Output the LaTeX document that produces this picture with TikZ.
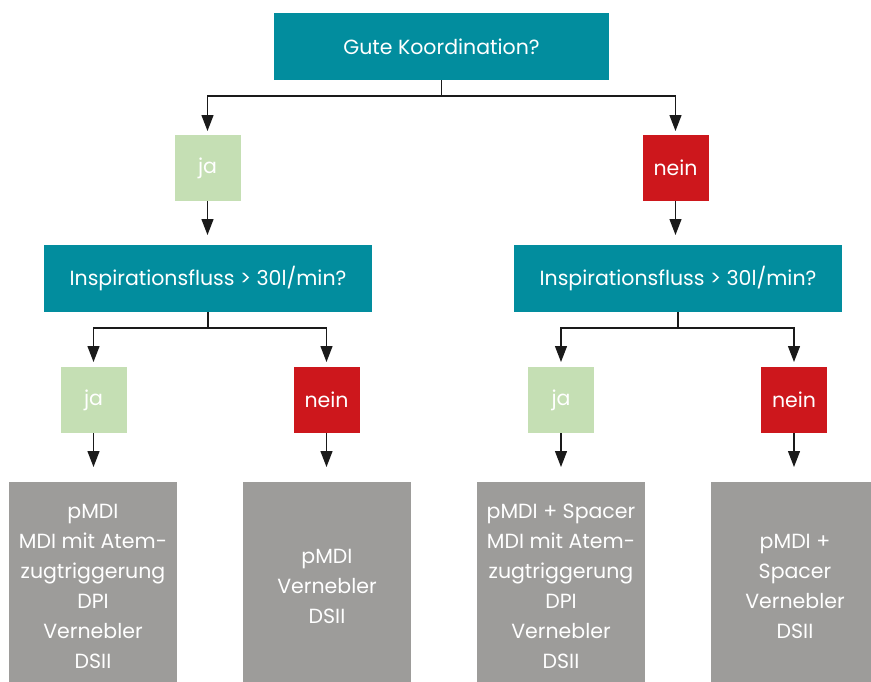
\documentclass[tikz,border=0pt]{standalone}
\usepackage{fontspec}
\setmainfont{Poppins}
\usetikzlibrary{arrows.meta}
\definecolor{tealc}{HTML}{028D9E}
\definecolor{greenc}{HTML}{C5DFB4}
\definecolor{redc}{HTML}{CD171C}
\definecolor{grayc}{HTML}{9D9C9A}
\definecolor{linec}{HTML}{1A1A1A}
\begin{document}
\begin{tikzpicture}[x=1pt,y=-1pt,
  base/.style={inner sep=0pt, outer sep=0pt, text=white, align=center, font=\fontsize{20.5}{30}\selectfont},
  qbox/.style={base, fill=tealc, minimum height=67pt},
  jabox/.style={base, fill=greenc, minimum width=66pt, minimum height=66pt},
  neinbox/.style={base, fill=redc, minimum width=66pt, minimum height=66pt},
  resbox/.style={base, fill=grayc, minimum width=168pt, minimum height=208pt},
  conn/.style={draw=linec, line width=1.3pt},
  arr/.style={conn, -{Triangle[length=16pt,width=12pt]}}
]
\path[use as bounding box] (0,0) rectangle (871,681);
\clip (0,0) rectangle (871,681);

\node[qbox, minimum width=335pt] (top) at (441.5,46.5) {Gute Koordination?};
\node[jabox] (jaT) at (207.5,168) {ja};
\node[neinbox] (neinT) at (675.5,168) {nein};
\node[qbox, minimum width=328pt] (insL) at (208,278.5) {Inspirationsfluss > 30l/min?};
\node[qbox, minimum width=328pt] (insR) at (678,278.5) {Inspirationsfluss > 30l/min?};
\node[jabox] (jaL) at (93.5,400) {ja};
\node[neinbox] (neinL) at (326.5,400) {nein};
\node[jabox] (jaR) at (561,400) {ja};
\node[neinbox] (neinR) at (794,400) {nein};
\node[resbox] (g1) at (93,586) {pMDI\\MDI mit Atem-\\zugtriggerung\\DPI\\Vernebler\\DSII};
\node[resbox] (g2) at (327,586) {pMDI\\Vernebler\\DSII};
\node[resbox] (g3) at (561,586) {pMDI + Spacer\\MDI mit Atem-\\zugtriggerung\\DPI\\Vernebler\\DSII};
\node[resbox] (g4) at (795,586) {pMDI +\\Spacer\\Vernebler\\DSII};

\coordinate (b0) at (441.5,96);
\coordinate (bL) at (208,328);
\coordinate (bR) at (678,328);

\draw[conn] (top.south) -- (b0);
\draw[arr, shorten >=4pt] (b0) -| (jaT.north);
\draw[arr, shorten >=4pt] (b0) -| (neinT.north);
\draw[arr, shorten >=10pt] (jaT.south) -- (jaT.south |- insL.north);
\draw[arr, shorten >=10pt] (neinT.south) -- (neinT.south |- insR.north);

\draw[conn] (insL.south) -- (bL);
\draw[arr, shorten >=5pt] (bL) -| (jaL.north);
\draw[arr, shorten >=5pt] (bL) -| (neinL.north);
\draw[conn] (insR.south) -- (bR);
\draw[arr, shorten >=5pt] (bR) -| (jaR.north);
\draw[arr, shorten >=5pt] (bR) -| (neinR.north);

\draw[arr, shorten >=15pt] (jaL.south) -- (jaL.south |- g1.north);
\draw[arr, shorten >=15pt] (neinL.south) -- (neinL.south |- g2.north);
\draw[arr, shorten >=15pt] (jaR.south) -- (jaR.south |- g3.north);
\draw[arr, shorten >=15pt] (neinR.south) -- (neinR.south |- g4.north);
\end{tikzpicture}
\end{document}
